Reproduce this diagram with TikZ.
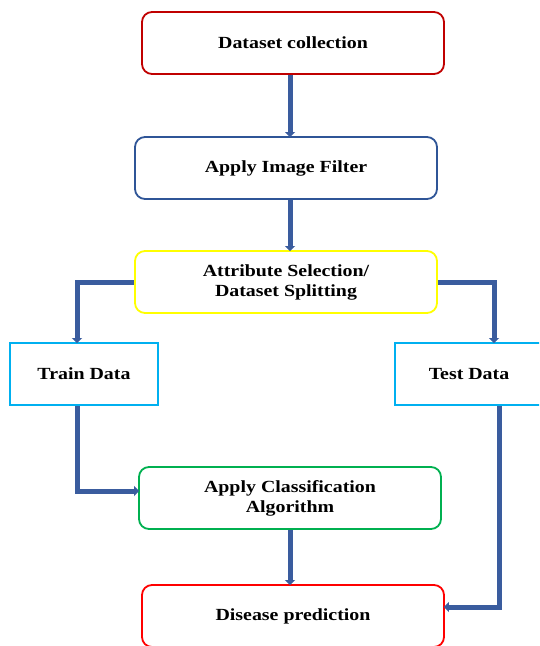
\documentclass[tikz,border=0pt]{standalone}
\usepackage{fontspec}
\setmainfont{Liberation Serif}[FakeStretch=1.17]
\usetikzlibrary{arrows.meta}
\definecolor{darkred}{HTML}{C00000}
\definecolor{officeblue}{HTML}{2F5597}
\definecolor{brightyellow}{HTML}{FFFF00}
\definecolor{skyblue}{HTML}{00B0F0}
\definecolor{leafgreen}{HTML}{00B050}
\definecolor{brightred}{HTML}{FF0000}
\definecolor{flowblue}{HTML}{3A5C9E}
\tikzset{
  boxtext/.style={font=\bfseries\fontsize{17}{20}\selectfont},
  stepbox/.style={draw, line width=1.8pt, rounded corners=10pt, fill=white,
    minimum width=302pt, minimum height=62pt, inner sep=0pt, align=center,
    boxtext},
  databox/.style={draw=skyblue, line width=1.8pt, fill=white,
    minimum width=148pt, minimum height=62pt, inner sep=0pt, align=center,
    boxtext},
  flow/.style={draw=flowblue, line width=5pt,
    -{Triangle[width=10pt,length=5pt]}, shorten >=-1pt}
}
\begin{document}
\begin{tikzpicture}[x=1pt,y=-1pt]
  \useasboundingbox (0,0) rectangle (539,646);
  \clip (0,0) rectangle (539,646);

  % process steps
  \node[stepbox, draw=darkred]      (collect)  at (293,43)  {\raisebox{-2pt}{Dataset collection}};
  \node[stepbox, draw=officeblue]   (filter)   at (286,168) {\raisebox{-2pt}{Apply Image Filter}};
  \node[stepbox, draw=brightyellow] (attr)     at (286,282) {Attribute Selection/\\Dataset Splitting};
  \node[databox]                    (train)    at (84,374)  {\raisebox{-2pt}{Train Data}};
  \node[databox]                    (test)     at (469,374) {\raisebox{-2pt}{Test Data}};
  \node[stepbox, draw=leafgreen]    (classify) at (290,498) {Apply Classification\\Algorithm};
  \node[stepbox, draw=brightred]    (predict)  at (293,616) {\raisebox{-2pt}{Disease prediction}};

  % bend points of the elbow connectors
  \coordinate (splitL)  at (77,282);
  \coordinate (splitR)  at (494,282);
  \coordinate (trainB)  at (77,406);
  \coordinate (trainC)  at (77,491);
  \coordinate (testB)   at (499,406);
  \coordinate (testC)   at (499,607);

  % connectors
  \draw[flow] (collect.south -| 290,0) -- (filter.north -| 290,0);
  \draw[flow] (filter.south -| 290,0) -- (attr.north -| 290,0);
  \draw[flow] (attr.west) -- (splitL) -- (splitL |- train.north);
  \draw[flow] (attr.east) -- (splitR) -- (splitR |- test.north);
  \draw[flow] (trainB) -- (trainC) -- (trainC -| classify.west);
  \draw[flow] (classify.south -| 290,0) -- (predict.north -| 290,0);
  \draw[flow] (testB) -- (testC) -- (testC -| predict.east);
\end{tikzpicture}
\end{document}
